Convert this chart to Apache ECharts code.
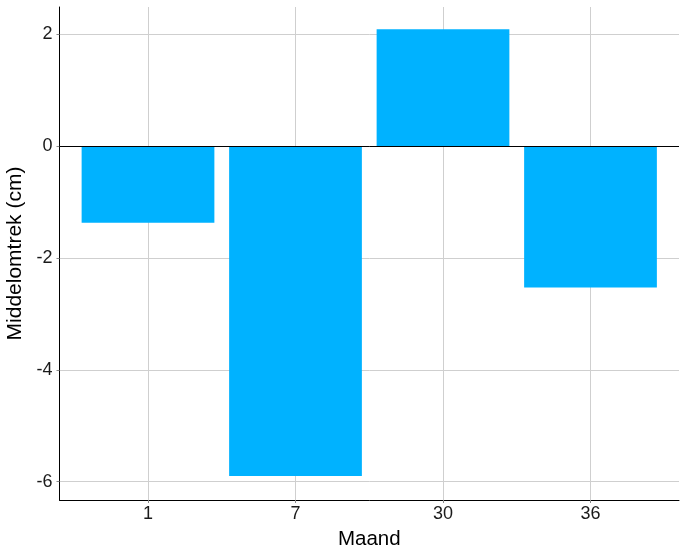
<!DOCTYPE html>
<html>
<head>
<meta charset="utf-8">
<script src="https://cdn.jsdelivr.net/npm/echarts@6/dist/echarts.min.js"></script>
<style>
html,body{margin:0;padding:0;background:#fff;}
#chart{width:686px;height:557px;}
</style>
</head>
<body>
<div id="chart"></div>
<script>
const categories = ['1', '7', '30', '36'];
const values = [-1.37, -5.90, 2.09, -2.53];
const yTickValues = [-6, -4, -2, 0, 2];
const xTitle = 'Maand';
const yTitle = 'Middelomtrek (cm)';

const xIdx = categories.map((c, i) => i);
const chart = echarts.init(document.getElementById('chart'), null, {renderer: 'canvas'});
const font = 'Liberation Sans, Arial, sans-serif';
chart.setOption({
  animation: false,
  backgroundColor: '#ffffff',
  grid: {left: 59.5, right: 7, top: 7, bottom: 57, containLabel: false, outerBoundsMode: 'none'},
  xAxis: {
    type: 'value',
    min: -0.6,
    max: categories.length - 0.4,
    name: xTitle,
    nameLocation: 'middle',
    nameGap: 29,
    nameTextStyle: {fontFamily: font, fontSize: 20.5, color: '#000'},
    axisLine: {show: true, onZero: false, lineStyle: {color: '#000', width: 1}},
    axisTick: {show: true, length: 3, customValues: xIdx, lineStyle: {color: '#888'}},
    axisLabel: {
      customValues: xIdx,
      margin: 5,
      fontFamily: font, fontSize: 18, color: '#1a1a1a',
      formatter: v => categories[Math.round(v)]
    },
    splitLine: {show: true, lineStyle: {color: '#cfcfcf', width: 1}}
  },
  yAxis: {
    type: 'value',
    min: -6.33,
    max: 2.49,
    name: yTitle,
    nameLocation: 'middle',
    nameGap: 31,
    nameTextStyle: {fontFamily: font, fontSize: 21, color: '#000'},
    axisLine: {show: true, onZero: false, lineStyle: {color: '#000', width: 1}},
    axisTick: {show: true, length: 3, customValues: yTickValues, lineStyle: {color: '#888'}},
    axisLabel: {customValues: yTickValues, margin: 7, fontFamily: font, fontSize: 18, color: '#1a1a1a'},
    splitLine: {show: true, lineStyle: {color: '#cfcfcf', width: 1}}
  },
  series: [{
    type: 'bar',
    data: values.map((v, i) => [i, v]),
    barWidth: '90%',
    itemStyle: {color: '#00b2ff'},
    emphasis: {disabled: true},
    markLine: {
      silent: true,
      symbol: 'none',
      label: {show: false},
      lineStyle: {color: '#000', width: 1, type: 'solid'},
      data: [{yAxis: 0}]
    }
  }]
});
</script>
</body>
</html>
